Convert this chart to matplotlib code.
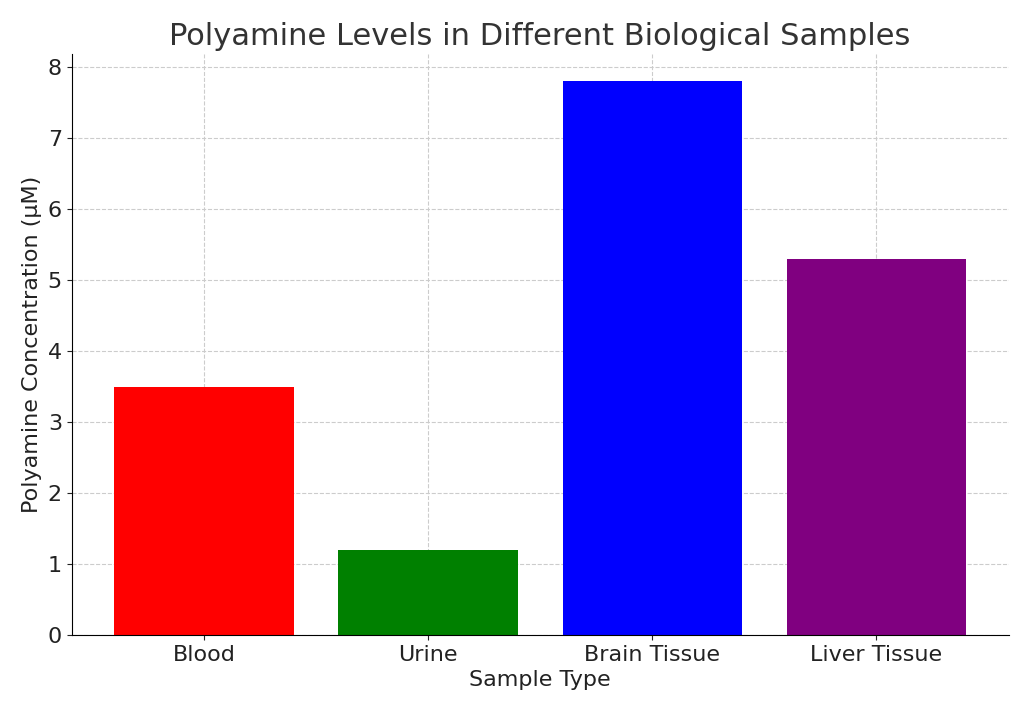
import matplotlib.pyplot as plt

samples = ['Blood', 'Urine', 'Brain Tissue', 'Liver Tissue']
levels = [3.5, 1.2, 7.8, 5.3]
colors = ['red', 'green', 'blue', 'purple']

fig, ax = plt.subplots(figsize=(10.24, 7.16), dpi=100)
ax.bar(samples, levels, color=colors, zorder=2)
ax.set_title('Polyamine Levels in Different Biological Samples', fontsize=22, color='#333333')
ax.set_xlabel('Sample Type', fontsize=16, color='#222222')
ax.set_ylabel('Polyamine Concentration (μM)', fontsize=16, color='#222222')
ax.tick_params(axis='both', labelsize=16, colors='#222222')
ax.grid(True, linestyle='--', color='#cccccc', zorder=0)
ax.spines['top'].set_visible(False)
ax.spines['right'].set_visible(False)
fig.subplots_adjust(left=0.07, right=0.985, top=0.925, bottom=0.113)
fig.savefig('out.png')
